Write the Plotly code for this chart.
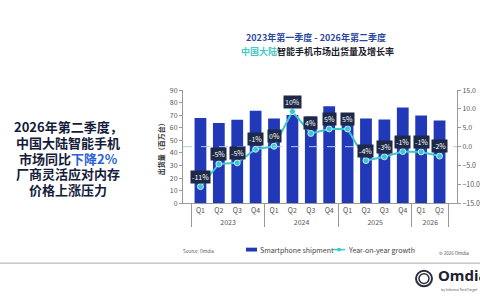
import plotly.graph_objects as go

years = ["2023"] * 4 + ["2024"] * 4 + ["2025"] * 4 + ["2026"] * 2
quarters = ["Q1", "Q2", "Q3", "Q4"] * 3 + ["Q1", "Q2"]
shipments = [67.7, 63.8, 66.4, 73.6, 67.4, 70.2, 69.0, 77.2, 70.8, 67.4, 66.7, 76.2, 69.7, 65.9]
growth = [-10.6, -4.6, -4.3, -0.7, 0.1, 9.3, 3.5, 4.7, 4.7, -3.7, -2.7, -1.3, -1.4, -2.5]
growth_labels = ["-11%", "-5%", "-5%", "-1%", "0%", "10%", "4%", "5%", "5%", "-4%", "-3%", "-1%", "-1%", "-2%"]
left_ticks = [0, 10, 20, 30, 40, 50, 60, 70, 80, 90]
right_ticks = [-15, -10, -5, 0, 5, 10, 15]
series_names = ["Smartphone shipment", "Year-on-year growth"]
headline_lines = [
    "2026年第二季度，",
    "中国大陆智能手机",
    "市场同比<span style='color:#2a62d6'>下降2%</span>",
    "厂商灵活应对内存",
    "价格上涨压力",
]

FONT = "Noto Sans CJK SC, Noto Sans, sans-serif"
BAR = "#2138b8"
TEAL = "#3ec6cf"

fig = go.Figure()
fig.add_trace(go.Bar(
    x=[years, quarters], y=shipments, name=series_names[0],
    marker=dict(color=BAR, line=dict(width=0)), yaxis="y",
))
fig.add_trace(go.Scatter(
    x=[years, quarters], y=growth, name=series_names[1], yaxis="y2",
    mode="lines+markers", line=dict(color=TEAL, width=2),
    marker=dict(color=TEAL, size=6, line=dict(color="#e8fbfc", width=0.8)),
))

x0, x1 = 183 / 480, 457 / 480
fig.update_layout(
    width=480, height=300, margin=dict(l=0, r=0, t=0, b=0),
    paper_bgcolor="white", plot_bgcolor="white",
    font=dict(family=FONT, size=7, color="#555"),
    bargap=0.36, showlegend=False,
    xaxis=dict(domain=[x0, x1], type="multicategory", showline=True, linecolor="#999",
               linewidth=1, ticks="", showdividers=True, dividercolor="#999", dividerwidth=1,
               tickfont=dict(size=7, color="#555")),
    yaxis=dict(domain=[1 - 204 / 300, 1 - 87 / 300], range=[0, 90], tickvals=left_ticks,
               showgrid=False, zeroline=False, showline=True, linecolor="#999", ticks="outside",
               ticklen=3, tickcolor="#999", tickfont=dict(size=7, color="#555")),
    yaxis2=dict(overlaying="y", side="right", range=[-15, 15], tickvals=right_ticks,
                tickformat=".1f", ticksuffix="%", showgrid=False, zeroline=False, showline=True,
                linecolor="#999", ticks="outside", ticklen=3, tickcolor="#999",
                tickfont=dict(size=7, color="#555"), anchor="x"),
)

# zero dashed line
fig.add_shape(type="line", xref="paper", yref="y2", x0=x0, x1=x1, y0=0, y1=0,
              line=dict(color="#b9cbef", width=1, dash="dash"), layer="above")

# growth labels
for i, (g, lab) in enumerate(zip(growth, growth_labels)):
    fig.add_annotation(x=i, y=g, xref="x", yref="y2", text=lab, showarrow=False,
                       yshift=10, bgcolor="#1d2947", borderpad=1,
                       font=dict(size=7, color="white", family=FONT))

def px(x):
    return x / 480

def py(y):
    return 1 - y / 300

ann = []
# titles
ann.append(dict(x=px(316), y=py(33), text="<b>2023年第一季度 - 2026年第二季度</b>",
                font=dict(size=9, color="#2a47a0")))
ann.append(dict(x=px(317), y=py(47),
                text="<b><span style='color:#45c9c9'>中国大陆</span>智能手机市场出货量及增长率</b>",
                font=dict(size=9, color="#1c1c2c")))
# y title
ann.append(dict(x=px(161), y=py(146), text="<b>出货量（百万台）</b>", textangle=-90,
                font=dict(size=7, color="#333")))
# left headline, one annotation per line
for k, line in enumerate(headline_lines):
    ann.append(dict(x=px(68), y=py(125 + 16.2 * k), text="<b>" + line + "</b>",
                    font=dict(size=13, color="#141c3a")))
# legend (manual)
ann.append(dict(x=px(258), y=py(252), xanchor="left", text=series_names[0], font=dict(size=7, color="#444")))
ann.append(dict(x=px(346), y=py(252), xanchor="left", text=series_names[1], font=dict(size=7, color="#444")))
# source & copyright
ann.append(dict(x=px(181), y=py(253), xanchor="left", text="Source: Omdia", font=dict(size=4.5, color="#555")))
ann.append(dict(x=px(437), y=py(256), xanchor="left", text="© 2026 Omdia", font=dict(size=4.5, color="#555")))
# logo text
ann.append(dict(x=px(436), y=py(278), xanchor="left", text="<b>Omdia</b>",
                font=dict(size=15, color="#1e2233", family="Noto Sans, sans-serif")))
ann.append(dict(x=px(439), y=py(293), xanchor="left", text="by Informa TechTarget",
                font=dict(size=3.5, color="#555")))
for a in ann:
    a.setdefault("xanchor", "center")
    fig.add_annotation(xref="paper", yref="paper", showarrow=False, yanchor="middle", **a)

# legend swatches
fig.add_shape(type="rect", xref="paper", yref="paper", x0=px(246), x1=px(257), y0=py(254), y1=py(250),
              fillcolor=BAR, line=dict(width=0))
fig.add_shape(type="line", xref="paper", yref="paper", x0=px(333), x1=px(345), y0=py(252), y1=py(252),
              line=dict(color=TEAL, width=1.5))
fig.add_shape(type="circle", xref="paper", yref="paper", x0=px(337), x1=px(341), y0=py(254), y1=py(250),
              fillcolor=TEAL, line=dict(width=0))

# separator line
fig.add_shape(type="line", xref="paper", yref="paper", x0=0, x1=1, y0=py(266), y1=py(266),
              line=dict(color="#aaa", width=1))
# logo rings
for r, w in [(8, 2), (5, 1.5)]:
    fig.add_shape(type="circle", xref="paper", yref="paper",
                  x0=px(424 - r), x1=px(424 + r), y0=py(282 + r), y1=py(282 - r),
                  line=dict(color="#2a2e3e", width=w))

fig.write_html("out.html")
